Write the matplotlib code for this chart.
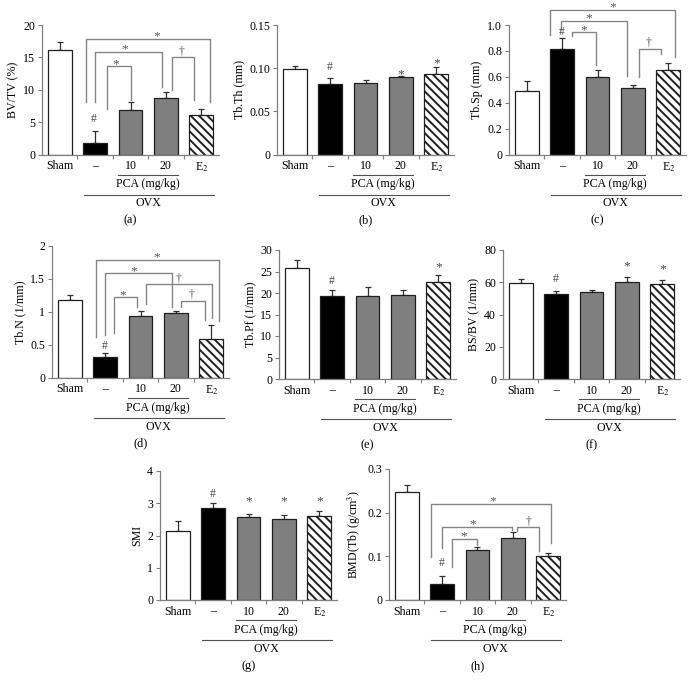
import matplotlib
matplotlib.use('Agg')
import matplotlib.pyplot as plt
from matplotlib import transforms
import numpy as np

plt.rcParams['font.family'] = ['Liberation Serif', 'DejaVu Serif']
plt.rcParams['mathtext.fontset'] = 'stix'
plt.rcParams['hatch.linewidth'] = 1.4
plt.rcParams['hatch.color'] = 'black'

# ---------------- data ----------------
groups = ['Sham', '–', '10', '20', 'E$_2$']

bvtv_mean = [16.1, 1.8, 6.9, 8.7, 6.1]
bvtv_err = [1.3, 1.8, 1.2, 0.9, 1.0]

tbth_mean = [0.0988, 0.0813, 0.0824, 0.0893, 0.0931]
tbth_err = [0.0042, 0.0072, 0.0035, 0.0019, 0.0084]

tbsp_mean = [0.487, 0.8125, 0.600, 0.513, 0.654]
tbsp_err = [0.078, 0.090, 0.056, 0.023, 0.054]

tbn_mean = [1.178, 0.310, 0.940, 0.975, 0.585]
tbn_err = [0.080, 0.066, 0.075, 0.035, 0.210]

tbpf_mean = [25.7, 19.2, 19.4, 19.5, 22.5]
tbpf_err = [2.0, 1.4, 2.0, 1.1, 1.7]

bsbv_mean = [59.3, 52.9, 53.7, 60.0, 58.7]
bsbv_err = [2.5, 1.5, 1.7, 3.1, 2.5]

smi_mean = [2.13, 2.86, 2.58, 2.50, 2.62]
smi_err = [0.32, 0.14, 0.10, 0.14, 0.14]

bmd_mean = [0.2475, 0.0375, 0.114, 0.1425, 0.101]
bmd_err = [0.0165, 0.0175, 0.008, 0.0125, 0.007]

# ---------------- figure ----------------
W, H = 692, 696
DPI = 100
fig = plt.figure(figsize=(W / DPI, H / DPI), dpi=DPI)
fig.patch.set_facecolor('white')

AX_COL = '#7f7f7f'
BR_COL = '#858585'
FS = 8.6

faces = ['white', 'black', '#7f7f7f', '#7f7f7f', 'white']
hatches = [None, None, None, None, '\\\\\\\\']

def px2pt(p):
    return p * 72.0 / DPI

SYM_FS = {'*': 9.6, '†': 8.4, '#': 8.4}

def make_panel(left, top, bottom, means, errs, ylim, yticks, yticklabels,
               ylabel, letter, width=177):
    rect = [left / W, 1 - bottom / H, width / W, (bottom - top) / H]
    ax = fig.add_axes(rect)
    x = np.arange(len(groups))
    for i in range(len(groups)):
        ax.bar(x[i], means[i], width=0.67, color=faces[i], edgecolor='#202020',
               linewidth=0.9, hatch=hatches[i], zorder=2)
    ax.errorbar(x, means, yerr=[np.zeros(len(means)), errs], fmt='none',
                ecolor='#303030', elinewidth=0.9, capsize=2.2, capthick=0.9,
                zorder=1)
    ax.set_xlim(-0.5, 4.5)
    ax.set_ylim(*ylim)
    ax.set_yticks(yticks)
    ax.set_yticklabels(yticklabels)
    ax.set_xticks(x)
    ax.set_xticklabels(groups)
    ax.set_xticks([0.5, 1.5, 2.5, 3.5], minor=True)
    ax.tick_params(axis='x', which='major', length=0, pad=4, labelsize=FS)
    ax.tick_params(axis='x', which='minor', length=3, direction='out',
                   color=AX_COL, width=0.8)
    ax.tick_params(axis='y', length=3, direction='out', color=AX_COL,
                   width=0.8, labelsize=FS, pad=2)
    for s in ['top', 'right']:
        ax.spines[s].set_visible(False)
    for s in ['left', 'bottom']:
        ax.spines[s].set_color(AX_COL)
        ax.spines[s].set_linewidth(0.9)
    ax.set_ylabel(ylabel, fontsize=FS, labelpad=3)
    ax.patch.set_alpha(0)

    # group lines below axis
    def below(dy_px):
        base = transforms.blended_transform_factory(ax.transData, ax.transAxes)
        return base + transforms.ScaledTranslation(0, -dy_px / DPI,
                                                   fig.dpi_scale_trans)
    ax.plot([1.64, 3.33], [0, 0], color='#505050', lw=0.8,
            transform=below(20), clip_on=False)
    ax.text(2.5, 0, 'PCA (mg/kg)', transform=below(30), ha='center',
            va='center', fontsize=FS)
    ax.plot([0.68, 4.37], [0, 0], color='#505050', lw=0.8,
            transform=below(40), clip_on=False)
    ax.text(2.5, 0, 'OVX', transform=below(49), ha='center', va='center',
            fontsize=FS)
    ax.text(2.0, 0, '(' + letter + ')', transform=below(66), ha='center',
            va='center', fontsize=FS + 0.3)
    return ax

def sym_offset(sym):
    return {'*': -0.5, '†': 3.0, '#': 1.5}.get(sym, 0.0)

def brackets(ax, items):
    for (x1, x2, yt, y1, y2, sym, sx) in items:
        ax.plot([x1, x1, x2, x2], [y1, yt, yt, y2], color=BR_COL, lw=1.0,
                clip_on=False, zorder=3)
        ax.annotate(sym, (sx, yt), xytext=(0, px2pt(sym_offset(sym))),
                    textcoords='offset points', ha='center', va='baseline',
                    fontsize=SYM_FS[sym], color='#555555',
                    annotation_clip=False)

def marks(ax, items):
    # y is the observed centre of the symbol; shift to baseline
    centre = {'*': 6.3, '#': 3.5, '†': 3.0}
    for (xx, yy, sym) in items:
        ax.annotate(sym, (xx, yy), xytext=(0, -px2pt(centre.get(sym, 3.0))),
                    textcoords='offset points', ha='center', va='baseline',
                    fontsize=SYM_FS[sym], color='#444444',
                    annotation_clip=False)

# (a)
ax = make_panel(42, 25, 154.5, bvtv_mean, bvtv_err, (0, 20),
                [0, 5, 10, 15, 20], ['0', '5', '10', '15', '20'],
                'BV/TV (%)', 'a')
brackets(ax, [(0.74, 4.24, 17.8, 8.1, 8.1, '*', 2.74),
              (1.00, 2.88, 15.8, 8.1, 10.5, '*', 1.85),
              (1.33, 2.02, 13.6, 7.0, 8.4, '*', 1.59),
              (3.16, 3.80, 15.0, 9.9, 8.4, '†', 3.44)])
marks(ax, [(0.97, 5.6, '#')])

# (b)
ax = make_panel(277, 25, 154.5, tbth_mean, tbth_err, (0, 0.15),
                [0, 0.05, 0.10, 0.15], ['0', '0.05', '0.10', '0.15'],
                'Tb.Th (mm)', 'b')
marks(ax, [(1, 0.102, '#'), (3, 0.097, '*'), (4, 0.109, '*')])

# (c)
ax = make_panel(509, 25, 154.5, tbsp_mean, tbsp_err, (0, 1.0),
                [0, 0.2, 0.4, 0.6, 0.8, 1.0],
                ['0', '0.2', '0.4', '0.6', '0.8', '1.0'], 'Tb.Sp (mm)', 'c')
brackets(ax, [(0.66, 4.20, 1.117, 0.925, 0.753, '*', 2.43),
              (0.97, 2.83, 1.034, 0.96, 0.604, '*', 1.75),
              (1.28, 1.96, 0.943, 0.917, 0.688, '*', 1.60),
              (3.16, 3.80, 0.818, 0.596, 0.773, '†', 3.45)])
marks(ax, [(1.0, 0.95, '#')])

# (d)
ax = make_panel(52, 246, 377.5, tbn_mean, tbn_err, (0, 2),
                [0, 0.5, 1, 1.5, 2], ['0', '0.5', '1', '1.5', '2'],
                'Tb.N (1/mm)', 'd')
brackets(ax, [(0.74, 4.22, 1.787, 0.62, 0.863, '*', 2.46),
              (0.99, 2.88, 1.584, 0.645, 1.066, '*', 1.82),
              (1.25, 1.90, 1.218, 0.67, 1.066, '*', 1.51),
              (2.16, 4.01, 1.42, 1.117, 0.904, '†', 3.08),
              (3.14, 3.81, 1.168, 1.066, 0.873, '†', 3.45)])
marks(ax, [(0.99, 0.48, '#')])

# (e)
ax = make_panel(279, 250, 379, tbpf_mean, tbpf_err, (0, 30),
                [0, 5, 10, 15, 20, 25, 30],
                ['0', '5', '10', '15', '20', '25', '30'], 'Tb.Pf (1/mm)', 'e')
marks(ax, [(1, 23.0, '#'), (4, 26.7, '*')])

# (f)
ax = make_panel(503, 250, 379, bsbv_mean, bsbv_err, (0, 80),
                [0, 20, 40, 60, 80], ['0', '20', '40', '60', '80'],
                'BS/BV (1/mm)', 'f')
marks(ax, [(1, 62.4, '#'), (3, 71.7, '*'), (4, 69.9, '*')])

# (g)
ax = make_panel(160, 471, 600, smi_mean, smi_err, (0, 4),
                [0, 1, 2, 3, 4], ['0', '1', '2', '3', '4'], 'SMI', 'g')
marks(ax, [(1, 3.3, '#'), (2, 3.17, '*'), (3, 3.17, '*'), (4, 3.17, '*')])

# (h)
ax = make_panel(389, 469, 600, bmd_mean, bmd_err, (0, 0.3),
                [0, 0.1, 0.2, 0.3], ['0', '0.1', '0.2', '0.3'],
                'BMD(Tb) (g/cm$^3$)', 'h')
brackets(ax, [(0.70, 4.07, 0.2207, 0.098, 0.131, '*', 2.43),
              (1.01, 2.97, 0.167, 0.1195, 0.160, '*', 1.87),
              (1.29, 1.99, 0.140, 0.075, 0.125, '*', 1.61),
              (3.12, 3.75, 0.167, 0.158, 0.113, '†', 3.43)])
marks(ax, [(1, 0.087, '#')])

fig.savefig('out.png', dpi=DPI, facecolor='white')
